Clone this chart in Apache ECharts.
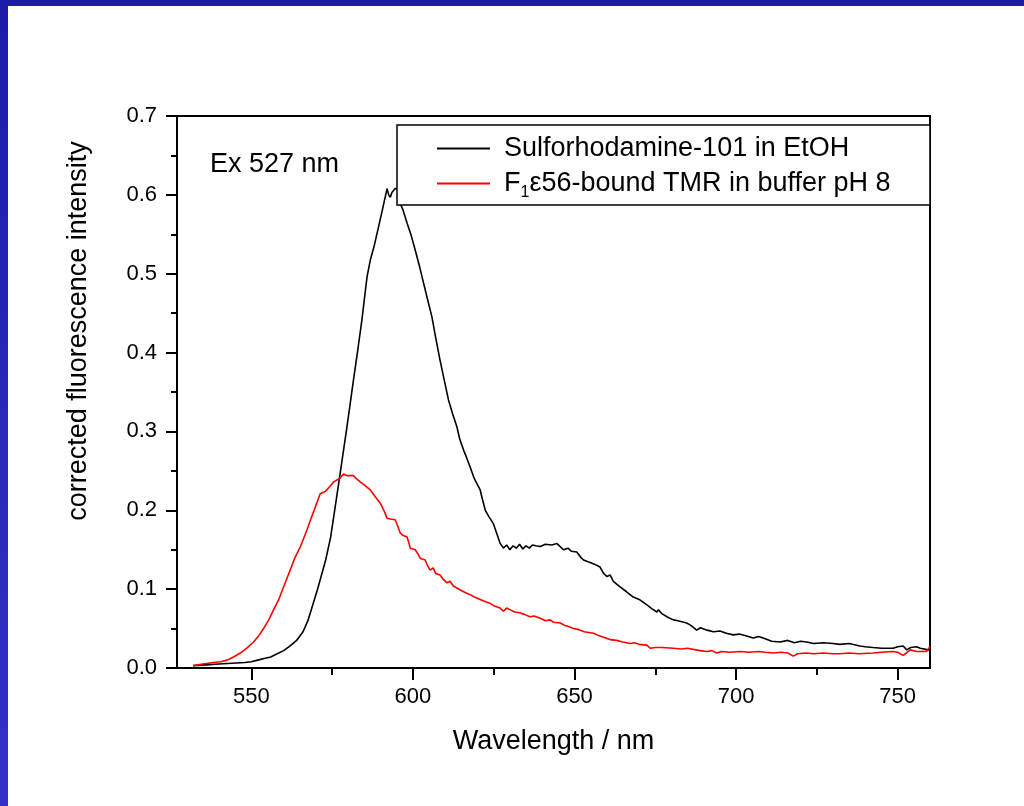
<!DOCTYPE html>
<html>
<head>
<meta charset="utf-8">
<script src="https://cdn.jsdelivr.net/npm/echarts@6/dist/echarts.min.js"></script>
<style>
html,body{margin:0;padding:0;background:#fff;}
#chart{width:1024px;height:806px;}
</style>
</head>
<body>
<div id="chart"></div>
<script>
// ---- data ----
var seriesNames = ['Sulforhodamine-101 in EtOH', 'F1ε56-bound TMR in buffer pH 8'];
var xTickValues = [550, 600, 650, 700, 750];
var xMinorTickValues = [575, 625, 675, 725];
var annotationText = 'Ex 527 nm';
var xAxisTitle = 'Wavelength / nm';
var yAxisTitle = 'corrected fluorescence intensity';

var sr101Wavelength = [532,536,540,544,548,550,552,554,556,558,560,562,564,566,567.5,569,570.5,572,573,574.5,575.5,577.5,579.6,581.6,583,584.2,585.8,586.8,588,589.4,590.5,591.3,592,592.5,593,593.5,594.5,595.3,596.1,597,598.2,599.5,600.7,602,603.3,604.5,605.9,607,608.4,609.7,611,612.3,613.6,614.5,615.7,616.5,617.7,619,620.8,621.5,622.4,623.5,624.9,626,627,628,629,630,631,632,633,634,635,636,637,638,639.4,641,643,644.5,646.6,648,649,650.7,652,652.8,654,656,657.9,659,660,661,662,664.1,666,668.2,670,672.4,674,675.5,676,677,679,680.6,682,684.7,686,687.8,689,691,693,695,697,699.1,701,703,705.3,707,709,711,713.6,716,718,720,721.8,724,727,730,732.1,735,738.3,740,742.4,745,748.6,750,751.7,752.8,754,755.8,757,759.4,760];
var sr101Intensity = [0.003,0.004,0.005,0.006,0.007,0.008,0.010,0.012,0.014,0.018,0.022,0.028,0.035,0.046,0.060,0.080,0.100,0.122,0.137,0.165,0.192,0.247,0.306,0.365,0.405,0.441,0.496,0.517,0.535,0.560,0.580,0.595,0.608,0.600,0.597,0.603,0.608,0.607,0.589,0.580,0.564,0.548,0.530,0.510,0.488,0.468,0.445,0.420,0.390,0.365,0.340,0.322,0.306,0.290,0.276,0.268,0.255,0.240,0.226,0.214,0.200,0.192,0.183,0.170,0.158,0.152,0.156,0.150,0.155,0.152,0.157,0.151,0.155,0.152,0.156,0.155,0.154,0.157,0.156,0.158,0.150,0.152,0.148,0.147,0.140,0.137,0.135,0.132,0.128,0.120,0.116,0.118,0.110,0.103,0.097,0.090,0.087,0.080,0.075,0.071,0.074,0.069,0.064,0.061,0.060,0.057,0.054,0.048,0.051,0.048,0.046,0.047,0.044,0.042,0.043,0.041,0.038,0.040,0.037,0.034,0.033,0.035,0.032,0.034,0.033,0.031,0.032,0.031,0.030,0.031,0.028,0.027,0.026,0.025,0.025,0.027,0.028,0.023,0.026,0.027,0.025,0.023,0.022];

var tmrWavelength = [532,535,538.3,540.5,542.5,544.5,546.6,548.5,550.7,552.3,553.8,555.5,556.9,558.4,560,562,563.5,565.2,567.2,568.5,569.8,571.3,572.9,574,575.5,577.5,578.5,579.5,581.6,582.5,583.7,585,586.8,588,589.9,591,592,593,594.5,595.3,596.1,597,598.2,599.2,600.7,601.5,602.3,603.8,604.5,605.3,606.3,607,608.4,609.5,610.5,611.5,612.5,614.7,616,617.7,619,620.8,622.5,623.9,625,627,628,629,630,631.5,633,634.5,636.2,637.5,639.4,641,642.5,643.5,645.6,647,648,649.7,651,653,655.9,657,659,661,663,665,667.2,668.5,670,672.4,673.4,675,677,680.6,683,685,688.8,691,692.5,694,695.5,698,701.2,704,707,709,711.5,714,716,717.7,719,721.8,724,727,730,732.1,735,738,742.4,745,748.6,750,751.7,753,753.8,756,758.9,760];
var tmrIntensity = [0.003,0.005,0.007,0.008,0.010,0.014,0.019,0.025,0.033,0.041,0.050,0.062,0.074,0.086,0.103,0.124,0.140,0.154,0.175,0.190,0.204,0.221,0.224,0.229,0.236,0.241,0.246,0.244,0.244,0.240,0.236,0.232,0.226,0.219,0.209,0.200,0.190,0.189,0.188,0.180,0.171,0.168,0.166,0.152,0.150,0.145,0.139,0.137,0.130,0.124,0.127,0.120,0.118,0.112,0.108,0.110,0.104,0.099,0.096,0.093,0.090,0.087,0.084,0.082,0.079,0.076,0.072,0.076,0.074,0.071,0.070,0.068,0.065,0.066,0.063,0.060,0.061,0.058,0.057,0.054,0.053,0.050,0.049,0.046,0.044,0.042,0.039,0.036,0.035,0.033,0.031,0.032,0.030,0.029,0.025,0.026,0.026,0.025,0.024,0.025,0.022,0.021,0.022,0.019,0.021,0.020,0.021,0.020,0.021,0.020,0.019,0.020,0.019,0.015,0.018,0.019,0.018,0.019,0.018,0.018,0.019,0.018,0.019,0.020,0.021,0.020,0.016,0.020,0.023,0.021,0.021,0.027];

function zip(xs, ys) { return xs.map(function (x, i) { return [x, ys[i]]; }); }

var chart = echarts.init(document.getElementById('chart'), null, {renderer: 'canvas'});
var FONT = 'Liberation Sans, Arial, sans-serif';

var option = {
  backgroundColor: '#ffffff',
  animation: false,
  grid: {
    left: 177, right: 94, top: 116, bottom: 138,
    show: true, borderColor: '#000', borderWidth: 2, backgroundColor: 'transparent'
  },
  xAxis: [{
    type: 'value', min: 527, max: 760,
    axisLine: {show: true, onZero: false, lineStyle: {color: '#000', width: 2}},
    axisTick: {show: true, inside: false, length: 12, customValues: xTickValues, lineStyle: {color: '#000', width: 2}},
    axisLabel: {show: true, margin: 18, customValues: xTickValues, color: '#000', fontSize: 22, fontFamily: FONT},
    splitLine: {show: false},
    name: xAxisTitle, nameLocation: 'middle', nameGap: 60,
    nameTextStyle: {color: '#000', fontSize: 27, fontFamily: FONT}
  }, {
    type: 'value', min: 527, max: 760, position: 'bottom',
    axisLine: {show: false},
    axisTick: {show: true, inside: false, length: 7, customValues: xMinorTickValues, lineStyle: {color: '#000', width: 2}},
    axisLabel: {show: false},
    splitLine: {show: false}
  }],
  yAxis: {
    type: 'value', min: 0, max: 0.7, interval: 0.1,
    axisLine: {show: true, lineStyle: {color: '#000', width: 2}},
    axisTick: {show: true, inside: false, length: 11, lineStyle: {color: '#000', width: 2}},
    minorTick: {show: true, splitNumber: 2, length: 6, lineStyle: {color: '#000', width: 2}},
    axisLabel: {margin: 20, color: '#000', fontSize: 22, fontFamily: FONT,
      formatter: function (v) { return v.toFixed(1); }},
    splitLine: {show: false}
  },
  legend: {
    orient: 'vertical', left: 437, top: 135, z: 20,
    icon: 'rect', itemWidth: 53, itemHeight: 2, itemGap: 8,
    padding: 0,
    data: seriesNames,
    textStyle: {
      color: '#000', fontSize: 27, fontFamily: FONT,
      rich: {
        p: {fontSize: 27, fontFamily: FONT, color: '#000', padding: [0, 0, 0, 9]},
        n: {fontSize: 27, fontFamily: FONT, color: '#000'},
        s: {fontSize: 16, fontFamily: FONT, color: '#000', padding: [18, 0, 0, 0]}
      }
    },
    formatter: function (name) {
      if (name === seriesNames[1]) {
        return '{p|F}{s|1}{n|ε56-bound TMR in buffer pH 8}';
      }
      return '{p|' + name + '}';
    }
  },
  graphic: [
    {type: 'rect', z: 100, shape: {x: 0, y: 0, width: 1024, height: 6}, style: {fill: '#1c1ca8'}},
    {type: 'rect', z: 100, shape: {x: 0, y: 0, width: 8, height: 806},
      style: {fill: new echarts.graphic.LinearGradient(0, 0, 0, 1, [
        {offset: 0, color: '#1c1ca8'}, {offset: 1, color: '#3232c8'}])}},
    {type: 'rect', z: 10, shape: {x: 397, y: 125, width: 533, height: 80},
      style: {fill: '#fff', stroke: '#000', lineWidth: 1.5}},
    {type: 'text', z: 10, left: 210, top: 151,
      style: {text: annotationText, fill: '#000', font: '27px ' + FONT}},
    {type: 'text', z: 10, x: 79, y: 331, rotation: Math.PI / 2,
      style: {text: yAxisTitle, fill: '#000', font: '27px ' + FONT, align: 'center', verticalAlign: 'middle'}}
  ],
  series: [{
    name: seriesNames[0], type: 'line', data: zip(sr101Wavelength, sr101Intensity),
    symbol: 'none', clip: true, xAxisIndex: 0,
    lineStyle: {color: '#000', width: 1.6}, itemStyle: {color: '#000'}
  }, {
    name: seriesNames[1], type: 'line', data: zip(tmrWavelength, tmrIntensity),
    symbol: 'none', clip: true, xAxisIndex: 0,
    lineStyle: {color: '#ff0000', width: 1.6}, itemStyle: {color: '#ff0000'}
  }]
};
chart.setOption(option);
</script>
</body>
</html>
